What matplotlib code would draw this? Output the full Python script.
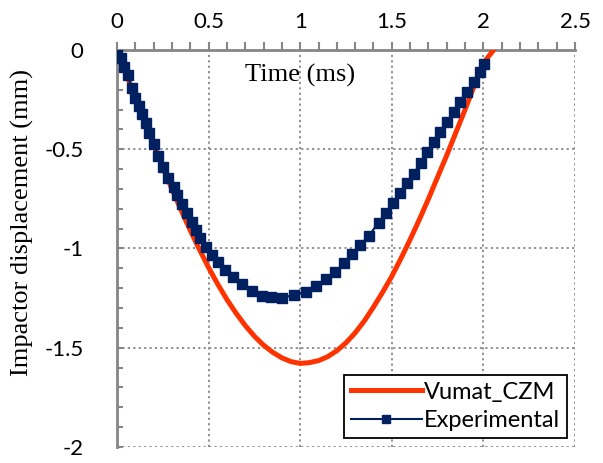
import matplotlib
matplotlib.use("Agg")
import matplotlib.pyplot as plt
from matplotlib.ticker import MultipleLocator

# Vumat_CZM simulation curve (time in ms, displacement in mm)
vumat_t = [0.0, 0.05, 0.1, 0.15, 0.2, 0.25, 0.3, 0.35, 0.4, 0.45, 0.5,
           0.55, 0.6, 0.65, 0.7, 0.75, 0.8, 0.85, 0.9, 0.95, 1.0,
           1.05, 1.1, 1.15, 1.2, 1.25, 1.3, 1.35, 1.4, 1.45, 1.5,
           1.55, 1.6, 1.65, 1.7, 1.75, 1.8, 1.85, 1.9, 1.95, 2.0, 2.06]
vumat_d = [0.0, -0.121, -0.241, -0.360, -0.477, -0.591, -0.701, -0.807,
           -0.909, -1.005, -1.096, -1.180, -1.257, -1.326, -1.388, -1.442,
           -1.487, -1.523, -1.551, -1.570, -1.579, -1.575, -1.565, -1.545,
           -1.515, -1.475, -1.425, -1.365, -1.295, -1.22, -1.14, -1.05,
           -0.955, -0.855, -0.75, -0.64, -0.53, -0.415, -0.30, -0.18,
           -0.065, 0.005]

# Experimental measurement
exp_t = [0.0, 0.02, 0.04, 0.058, 0.08, 0.10, 0.118, 0.136, 0.157, 0.177,
         0.20, 0.225, 0.25, 0.28, 0.31, 0.33, 0.355, 0.38, 0.408, 0.43,
         0.455, 0.486, 0.517, 0.554, 0.59, 0.632, 0.681, 0.736, 0.794,
         0.84, 0.903, 0.967, 1.031, 1.087, 1.142, 1.191, 1.24, 1.282,
         1.328, 1.373, 1.428, 1.47, 1.507, 1.546, 1.583, 1.619, 1.659,
         1.692, 1.729, 1.765, 1.802, 1.842, 1.871, 1.911, 1.947, 1.984,
         2.005]
exp_d = [0.0, -0.04, -0.084, -0.126, -0.19, -0.24, -0.28, -0.32, -0.37,
         -0.42, -0.475, -0.535, -0.59, -0.645, -0.69, -0.73, -0.775, -0.82,
         -0.865, -0.905, -0.948, -0.99, -1.032, -1.066, -1.108, -1.145,
         -1.18, -1.213, -1.238, -1.246, -1.248, -1.234, -1.217, -1.189,
         -1.155, -1.12, -1.071, -1.028, -0.982, -0.937, -0.87, -0.823,
         -0.772, -0.722, -0.672, -0.623, -0.568, -0.512, -0.462, -0.411,
         -0.361, -0.311, -0.26, -0.21, -0.16, -0.109, -0.07]

x_ticks = [0, 0.5, 1, 1.5, 2, 2.5]
x_labels = ['0', '0.5', '1', '1.5', '2', '2.5']
y_ticks = [0, -0.5, -1, -1.5, -2]
y_labels = ['0', '-0.5', '-1', '-1.5', '-2']

RED = '#FF3300'
NAVY = '#002060'
GRAY = '#868686'
TICK_FONT = 'Lato'

fig = plt.figure(figsize=(6.03, 4.63), dpi=100)
ax = fig.add_axes([0.194, 0.0346, 0.7596, 0.8574])

ax.plot(vumat_t, vumat_d, color=RED, lw=3.6, label='Vumat_CZM', zorder=3)
ax.plot(exp_t, exp_d, color=NAVY, lw=1.5, marker='s', ms=6.5,
        markeredgecolor=NAVY, label='Experimental', zorder=4)

ax.set_xlim(0, 2.5)
ax.set_ylim(-2, 0)
ax.xaxis.tick_top()
ax.set_xticks(x_ticks)
ax.set_xticklabels(x_labels)
ax.set_yticks(y_ticks)
ax.set_yticklabels(y_labels)
ax.xaxis.set_minor_locator(MultipleLocator(0.1))
ax.yaxis.set_minor_locator(MultipleLocator(0.1))

ax.grid(True, which='major', color=GRAY, ls=(0, (1.2, 1.8)), lw=1.3)
for side in ['bottom', 'right']:
    ax.spines[side].set_visible(False)
for side in ['top', 'left']:
    ax.spines[side].set_color(GRAY)
    ax.spines[side].set_linewidth(2.0)

ax.tick_params(axis='x', which='both', direction='out', length=6,
               width=1.5, color=GRAY, pad=7)
ax.tick_params(axis='y', which='both', direction='in', length=4,
               width=1.5, color=GRAY, pad=24)
for lab in ax.get_xticklabels() + ax.get_yticklabels():
    lab.set_fontfamily(TICK_FONT)
    lab.set_fontsize(16)

ax.text(1.0, -0.13, 'Time (ms)', ha='center', va='center',
        family='Liberation Serif', fontsize=19)
fig.text(0.037, 0.52, 'Impactor displacement (mm)', rotation=90,
         ha='center', va='center', family='Liberation Serif', fontsize=19)

leg = ax.legend(loc='lower right', bbox_to_anchor=(0.983, 0.023),
                prop={'family': TICK_FONT, 'size': 17}, fancybox=False,
                edgecolor='black', framealpha=1, borderpad=0.3,
                handlelength=3.0, handletextpad=0.1, labelspacing=0.3,
                borderaxespad=0, markerscale=0.8)
leg.get_frame().set_linewidth(1.3)
leg.set_zorder(10)

fig.savefig('out.png', dpi=100)
